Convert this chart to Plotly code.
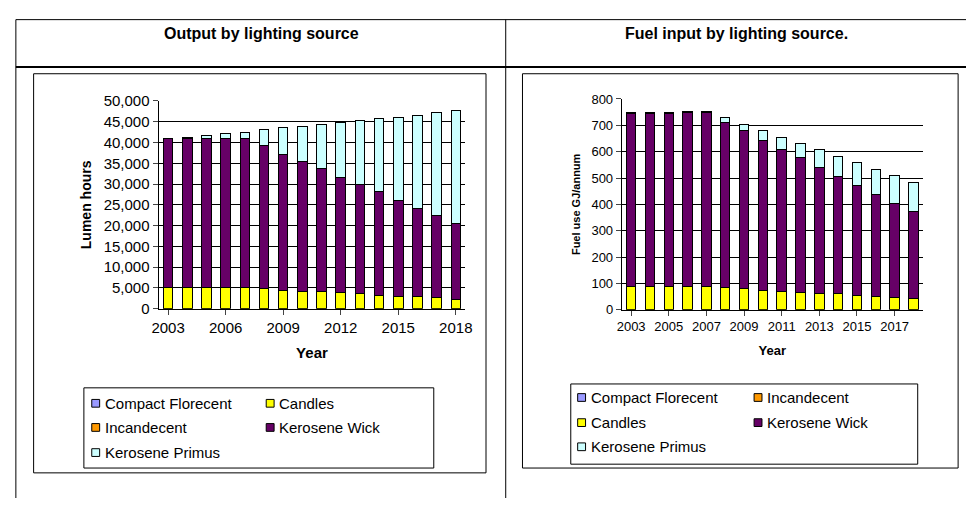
import plotly.graph_objects as go

years = [str(y) for y in range(2003, 2019)]
# Output (lumen hours)
out_cfl = [0]*16
out_inc = [0]*16
out_candles = [5000,5000,5000,5000,5000,4800,4500,4200,4200,3900,3600,3300,3000,3000,2700,2300]
out_wick_top = [41000,41000,41000,41000,41000,39300,37200,35500,33700,31600,29800,28100,26000,24200,22500,20400]
out_total = [41000,41300,41700,42100,42500,43100,43500,43900,44400,44800,45300,45700,46100,46600,47100,47600]
# Fuel input (GJ/annum)
fuel_cfl = [0]*16
fuel_inc = [0]*16
fuel_candles = [88,88,88,88,88,84,80,74,70,65,60,60,55,50,46,43]
fuel_wick_top = [745,745,745,748,748,712,680,642,610,577,540,507,473,437,405,372]
fuel_total = [748,748,750,752,752,728,705,680,655,630,610,582,557,533,510,484]

out_wick = [t-c for t, c in zip(out_wick_top, out_candles)]
out_primus = [t-w for t, w in zip(out_total, out_wick_top)]
fuel_wick = [t-c for t, c in zip(fuel_wick_top, fuel_candles)]
fuel_primus = [t-w for t, w in zip(fuel_total, fuel_wick_top)]

colors = {"Compact Florecent": "#9999FF", "Incandecent": "#FF9900", "Candles": "#FFFF00",
          "Kerosene Wick": "#660066", "Kerosene Primus": "#CCFFFF"}
FONT = "Liberation Sans, Arial, sans-serif"
NARROW = "Liberation Sans Narrow, Arial Narrow, Liberation Sans, sans-serif"

fig = go.Figure()
series_out = [("Compact Florecent", out_cfl), ("Incandecent", out_inc), ("Candles", out_candles),
              ("Kerosene Wick", out_wick), ("Kerosene Primus", out_primus)]
series_fuel = [("Compact Florecent", fuel_cfl), ("Incandecent", fuel_inc), ("Candles", fuel_candles),
               ("Kerosene Wick", fuel_wick), ("Kerosene Primus", fuel_primus)]
for name, vals in series_out:
    fig.add_trace(go.Bar(x=years, y=vals, name=name, marker_color=colors[name],
                         marker_line=dict(color="black", width=1), showlegend=False,
                         xaxis="x", yaxis="y"))
for name, vals in series_fuel:
    fig.add_trace(go.Bar(x=years, y=vals, name=name, marker_color=colors[name],
                         marker_line=dict(color="black", width=1), showlegend=False,
                         xaxis="x2", yaxis="y2"))

fig.update_layout(
    width=973, height=506, margin=dict(l=0, r=0, t=0, b=0),
    paper_bgcolor="white", plot_bgcolor="white", barmode="stack", bargap=0.5,
    font=dict(family=FONT, color="black"),
    xaxis=dict(domain=[0.158, 0.478], type="category", tickvals=years[::3], ticktext=years[::3],
               tickfont=dict(size=15), showline=True, linecolor="black", ticks="outside",
               title=dict(text="<b>Year</b>", font=dict(size=15), standoff=12)),
    yaxis=dict(domain=[0.387, 0.812], range=[0, 50000], dtick=5000, tickformat=",d",
               tickfont=dict(size=15), showline=True, linecolor="black", ticks="outside",
               gridcolor="black", gridwidth=1,
               title=dict(text="<b>Lumen hours</b>", font=dict(size=14), standoff=8)),
    xaxis2=dict(domain=[0.641, 0.955], type="category", tickvals=years[::2], ticktext=years[::2],
                tickfont=dict(size=13), showline=True, linecolor="black", ticks="outside",
                anchor="y2", title=dict(text="<b>Year</b>", font=dict(size=13), standoff=12)),
    yaxis2=dict(domain=[0.385, 0.816], range=[0, 800], dtick=100, anchor="x2",
                tickfont=dict(size=13), showline=True, linecolor="black", ticks="outside",
                gridcolor="black", gridwidth=1,
                title=dict(text="<b>Fuel use GJ/annum</b>", font=dict(size=11), standoff=8)),
)

shapes = []
def line(x0, y0, x1, y1, w=1):
    shapes.append(dict(type="line", xref="paper", yref="paper", x0=x0/973, x1=x1/973,
                       y0=1-y0/506, y1=1-y1/506, line=dict(color="black", width=w)))
def rect(x0, y0, x1, y1, w=1):
    shapes.append(dict(type="rect", xref="paper", yref="paper", x0=x0/973, x1=x1/973,
                       y0=1-y0/506, y1=1-y1/506, line=dict(color="black", width=w)))
line(9, 11, 973, 11)
line(9, 11, 9, 506)
line(9, 60, 973, 60, 2)
line(506, 11, 506, 506)
rect(27, 67, 486, 480)
rect(523, 67, 965, 475)
rect(78, 392, 433, 475)
rect(572, 388, 924, 471)

ann = []
def text(x, y, s, size=14, bold=False, fam=FONT, anchor="left"):
    ann.append(dict(x=x/973, y=1-y/506, xref="paper", yref="paper", text=f"<b>{s}</b>" if bold else s,
                    showarrow=False, xanchor=anchor, yanchor="middle", font=dict(size=size, family=fam)))
text(258, 25, "Output by lighting source", 16, True, fam=NARROW, anchor="center")
text(740, 25, "Fuel input by lighting source.", 16, True, fam=NARROW, anchor="center")

def legend_item(x, y, name):
    shapes.append(dict(type="rect", xref="paper", yref="paper", x0=x/973, x1=(x+8)/973,
                       y0=1-(y+4)/506, y1=1-(y-4)/506, fillcolor=colors[name],
                       line=dict(color="black", width=1)))
    text(x+11, y, name, 15, fam=NARROW)

for (x, y, n) in [(86, 408, "Compact Florecent"), (263, 408, "Candles"),
                  (86, 433, "Incandecent"), (263, 433, "Kerosene Wick"),
                  (86, 459, "Kerosene Primus")]:
    legend_item(x, y, n)
for (x, y, n) in [(579, 402, "Compact Florecent"), (758, 402, "Incandecent"),
                  (579, 428, "Candles"), (758, 428, "Kerosene Wick"),
                  (579, 453, "Kerosene Primus")]:
    legend_item(x, y, n)

fig.update_layout(shapes=shapes, annotations=ann)
fig.write_html("out.html", config={"displayModeBar": False})
with open("out.html", encoding="utf-8") as f:
    html = f.read()
html = html.replace("<head>", "<head><style>html,body{margin:0;padding:0;overflow:hidden}</style>", 1)
with open("out.html", "w", encoding="utf-8") as f:
    f.write(html)
